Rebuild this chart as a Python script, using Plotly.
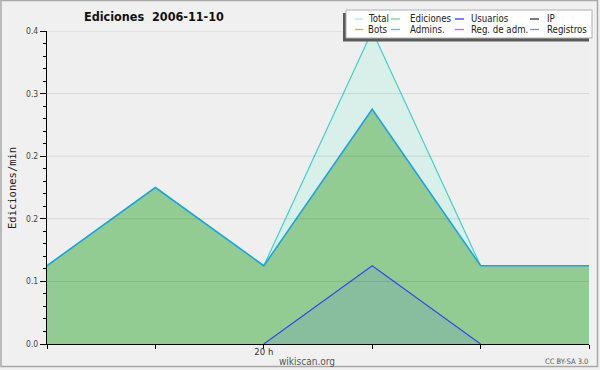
import plotly.graph_objects as go

# ---- data ----
hours = [18, 19, 20, 21, 22, 23]
hour_labels = ["", "", "20 h", "", "", ""]
total = [0.1, 0.2, 0.1, 0.4, 0.1, 0.1]
ediciones = [0.1, 0.2, 0.1, 0.3, 0.1, 0.1]
usuarios = [None, None, 0.0, 0.1, 0.0, None]
y_ticks = [0, 0.08, 0.16, 0.24, 0.32, 0.4]
y_tick_labels = ["0.0", "0.1", "0.2", "0.2", "0.3", "0.4"]
legend_names = ["Total", "Ediciones", "Usuarios", "IP", "Bots", "Admins.", "Reg. de adm.", "Registros"]
legend_colors = ["#a8ebe3", "#7fcf7f", "#3a3af0", "#333333", "#f5a030", "#30d0e0", "#ee55ee", "#7f7ff5"]

W, H = 600, 370
ML, MR, MT, MB = 47, 11, 31, 26
PW, PH = W - ML - MR, H - MT - MB
COND = "DejaVu Sans Condensed, DejaVu Sans"


def px(x):
    return (x - ML) / PW


def py(y):
    return 1 - (y - MT) / PH


fig = go.Figure()
fig.add_trace(go.Scatter(x=hours, y=total, mode="lines", fill="tozeroy",
                         fillcolor="#d9f0ea", line=dict(color="#3fd3c8", width=1.2),
                         showlegend=False, hoverinfo="skip"))
fig.add_trace(go.Scatter(x=hours, y=ediciones, mode="lines", fill="tozeroy",
                         fillcolor="#93cc93", line=dict(color="#20a4dc", width=1.6),
                         showlegend=False, hoverinfo="skip"))
fig.add_trace(go.Scatter(x=hours, y=usuarios, mode="lines", fill="tozeroy",
                         fillcolor="rgba(60,80,240,0.12)", line=dict(color="#3548ee", width=1.2),
                         showlegend=False, hoverinfo="skip"))

shapes = []
# grid lines above fills
for v in y_ticks[1:]:
    shapes.append(dict(type="line", xref="paper", yref="y", x0=0, x1=1, y0=v, y1=v,
                       line=dict(color="rgba(0,0,0,0.10)", width=1), layer="above"))
# outer frame
shapes.append(dict(type="rect", xref="paper", yref="paper", x0=px(1), x1=px(597.5), y0=py(0.5), y1=py(366.5),
                   line=dict(color="#a8a8a8", width=1.5), layer="below"))
# legend box shadow and box
shapes.append(dict(type="rect", xref="paper", yref="paper", x0=px(343), x1=px(589), y0=py(13), y1=py(41.5),
                   fillcolor="#5a5a5a", line=dict(width=0), layer="above"))
shapes.append(dict(type="rect", xref="paper", yref="paper", x0=px(346), x1=px(592), y0=py(10), y1=py(38),
                   fillcolor="#ffffff", line=dict(color="#b0b0b0", width=1), layer="above"))

annotations = []
col_line_x = [(355, 363), (391, 400), (455, 464), (530, 539)]
col_text_x = [366, 408, 469, 545]
row_y = [19, 29.5]
for i, (name, col) in enumerate(zip(legend_names, legend_colors)):
    r, c = divmod(i, 4)
    x0, x1 = col_line_x[c]
    shapes.append(dict(type="line", xref="paper", yref="paper", x0=px(x0), x1=px(x1),
                       y0=py(row_y[r]), y1=py(row_y[r]), line=dict(color=col, width=1.3), layer="above"))
    annotations.append(dict(text=name, xref="paper", yref="paper", x=px(col_text_x[c]), y=py(row_y[r]),
                            xanchor="left", yanchor="middle", showarrow=False,
                            font=dict(family=COND, size=9.6, color="#222")))

annotations.append(dict(text="<b>Ediciones  2006-11-10</b>", xref="paper", yref="paper",
                        x=px(154), y=py(16.5), xanchor="center", yanchor="middle", showarrow=False,
                        font=dict(family=COND, size=12.5, color="#111")))
annotations.append(dict(text="Ediciones/min", xref="paper", yref="paper", x=px(12), y=py(188),
                        xanchor="center", yanchor="middle", textangle=-90, showarrow=False,
                        font=dict(family="DejaVu Sans Mono", size=10.5, color="#222")))
annotations.append(dict(text="wikiscan.org", xref="paper", yref="paper", x=px(307), y=py(361),
                        xanchor="center", yanchor="middle", showarrow=False,
                        font=dict(family=COND, size=10, color="#555")))
annotations.append(dict(text="CC BY-SA 3.0", xref="paper", yref="paper", x=px(590), y=py(361),
                        xanchor="right", yanchor="middle", showarrow=False,
                        font=dict(family=COND, size=7.5, color="#555")))

fig.update_layout(
    width=W, height=H,
    margin=dict(l=ML, r=MR, t=MT, b=MB, autoexpand=False),
    paper_bgcolor="#f0f0f0", plot_bgcolor="#efefef",
    showlegend=False,
    shapes=shapes, annotations=annotations,
    xaxis=dict(range=[18, 23], tickvals=hours, ticktext=hour_labels, showgrid=False, zeroline=False,
               showline=True, linecolor="#000", linewidth=1.2, ticks="outside", ticklen=4,
               tickcolor="#000", tickfont=dict(family=COND, size=9.5, color="#333"),
               ticklabelstandoff=-6,
               layer="above traces", automargin=False),
    yaxis=dict(range=[0, 0.4], tickvals=y_ticks, ticktext=y_tick_labels, showgrid=False, zeroline=False,
               showline=True, linecolor="#000", linewidth=1.2, ticks="outside", ticklen=6,
               tickcolor="#000", tickfont=dict(family=COND, size=8.5, color="#444"),
               minor=dict(dtick=0.016, tick0=0, ticks="outside", ticklen=3, tickcolor="#000", showgrid=False),
               layer="above traces", automargin=False),
)

fig.write_html("out.html", config={"displayModeBar": False},
               post_script="document.body.style.margin='0';document.body.style.padding='0';"
                           "document.body.style.overflow='hidden';")
